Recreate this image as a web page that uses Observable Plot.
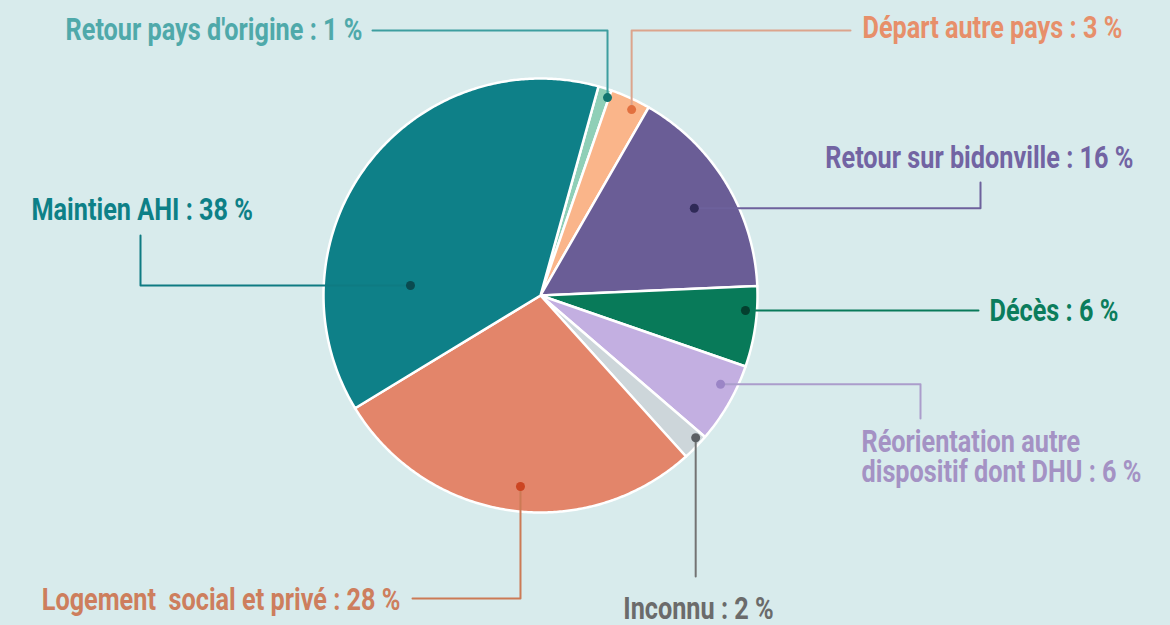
<!DOCTYPE html>
<html><head><meta charset="utf-8">
<script src="https://cdn.jsdelivr.net/npm/d3@7"></script>
<script src="https://cdn.jsdelivr.net/npm/@observablehq/plot@0.6"></script>
<style>html,body{margin:0;padding:0;background:#d8ebec;} #chart{width:1170px;height:625px;overflow:hidden;}</style>
</head><body><div id="chart"></div><script>
// ---- data ----
const categories = ["Retour pays d'origine","Départ autre pays","Retour sur bidonville","Décès","Réorientation autre dispositif dont DHU","Inconnu","Logement  social et privé","Maintien AHI"];
const shares = [1, 3, 16, 6, 6, 2, 28, 38];
const labelTexts = ["Retour pays d'origine : 1 %","Départ autre pays : 3 %","Retour sur bidonville : 16 %","Décès : 6 %","Réorientation autre\ndispositif dont DHU : 6 %","Inconnu : 2 %","Logement  social et privé : 28 %","Maintien AHI : 38 %"];
const sliceColors = ["#8fcfb7","#fab58a","#6a5d96","#087a59","#c3afe1","#cdd6da","#e3856a","#0e8088"];
const dotColors   = ["#11746f","#e2703f","#2f2a57","#043f2e","#9b85c6","#5b5f63","#cc4522","#0a4a50"];
const lineColors  = ["#3d9e9f","#dca48c","#6d619c","#087a5a","#ab9dcb","#737373","#cc7a55","#0e7b82"];
const textColors  = ["#4fa9aa","#e78f6a","#7264a3","#0b7d5c","#a492c4","#6b6b6b","#cd7e5d","#0d8087"];

// ---- layout ----
const W = 1170, H = 625, cx = 540, cy = 295, R = 217, startDeg = 15.5;
const anchorT = [0.89, 0.65, 0.53, 0.31, 0.33, 0.25, 0.477, 0.261];
const anchorR = [0.963, 0.954, 0.815, 0.947, 0.925, 0.97, 0.885, 0.601];
const routes = [
  {dir:"v", ex:372, ey:30},
  {dir:"v", ex:850, ey:30},
  {dir:"h", ex:980, ey:182},
  {dir:"h", ex:978, ey:null},
  {dir:"h", ex:920, ey:418},
  {dir:"v", ex:null, ey:576},
  {dir:"v", ex:412, ey:598},
  {dir:"h", ex:140, ey:235}
];
const labelPos = [
  {x:362, y:30, a:"end"},
  {x:862, y:28, a:"start"},
  {x:1133, y:158, a:"end"},
  {x:989, y:311, a:"start"},
  {x:861, y:457, a:"start"},
  {x:698, y:609, a:"middle"},
  {x:400, y:600, a:"end"},
  {x:31, y:210, a:"start"}
];
const fontSize = 31, textScaleX = 0.815;

// ---- build ----
const rad = Math.PI / 180;
const pt = (a, r) => ({x: cx + r * Math.sin(a), y: cy - r * Math.cos(a)});
const arcs = d3.pie().sort(null).startAngle(startDeg * rad).endAngle(startDeg * rad + 2 * Math.PI)(shares);

const slicePts = [];
const dots = [];
const leaders = [];
const labels = [];
arcs.forEach((arc, i) => {
  const cat = categories[i];
  slicePts.push({cat, color: sliceColors[i], ...pt(0, 0)});
  const n = Math.max(2, Math.ceil((arc.endAngle - arc.startAngle) / (0.5 * rad)));
  for (let k = 0; k <= n; k++) {
    const a = arc.startAngle + (arc.endAngle - arc.startAngle) * k / n;
    slicePts.push({cat, color: sliceColors[i], ...pt(a, R)});
  }
  const aDot = arc.startAngle + (arc.endAngle - arc.startAngle) * anchorT[i];
  const d = pt(aDot, R * anchorR[i]);
  dots.push({cat, color: dotColors[i], ...d});
  const r = routes[i];
  let path;
  if (r.dir === "v") {
    path = [d, {x: d.x, y: r.ey}, {x: r.ex ?? d.x, y: r.ey}];
  } else {
    path = [d, {x: r.ex, y: d.y}, {x: r.ex, y: r.ey ?? d.y}];
  }
  path.forEach(p => leaders.push({cat, color: lineColors[i], x: p.x, y: p.y}));
  labels.push({cat, text: labelTexts[i], color: textColors[i], ...labelPos[i]});
});

const textMark = (anchor) => Plot.text(labels.filter(l => l.a === anchor), {
  x: "x", y: "y", text: "text", fill: "color", textAnchor: anchor,
  fontSize, fontWeight: 700, lineHeight: 0.95, lineAnchor: "middle", fontFamily: "Roboto"
});

const chart = Plot.plot({
  width: W, height: H, margin: 0,
  x: {domain: [0, W], range: [0, W], axis: null},
  y: {domain: [0, H], range: [0, H], axis: null},
  color: {type: "identity"},
  style: {background: "#d8ebec", fontFamily: "Roboto", overflow: "visible"},
  marks: [
    Plot.line(slicePts, {x: "x", y: "y", z: "cat", fill: "color", stroke: "white", strokeWidth: 2.5, strokeLinejoin: "round", curve: "linear-closed"}),
    Plot.line(leaders, {x: "x", y: "y", z: "cat", stroke: "color", strokeWidth: 2}),
    Plot.dot(dots, {x: "x", y: "y", r: 4.5, fill: "color"}),
    textMark("start"), textMark("end"), textMark("middle")
  ]
});
document.getElementById("chart").appendChild(chart);

// condensed look: squeeze labels horizontally around their anchor
chart.querySelectorAll('g[aria-label="text"] text').forEach(t => {
  const tr = t.getAttribute("transform");
  if (tr) {
    t.setAttribute("transform", tr + ` scale(${textScaleX},1)`);
  } else {
    const x = +t.getAttribute("x") || 0, y = +t.getAttribute("y") || 0;
    t.removeAttribute("x"); t.removeAttribute("y");
    t.setAttribute("transform", `translate(${x},${y}) scale(${textScaleX},1)`);
  }
});
</script></body></html>
